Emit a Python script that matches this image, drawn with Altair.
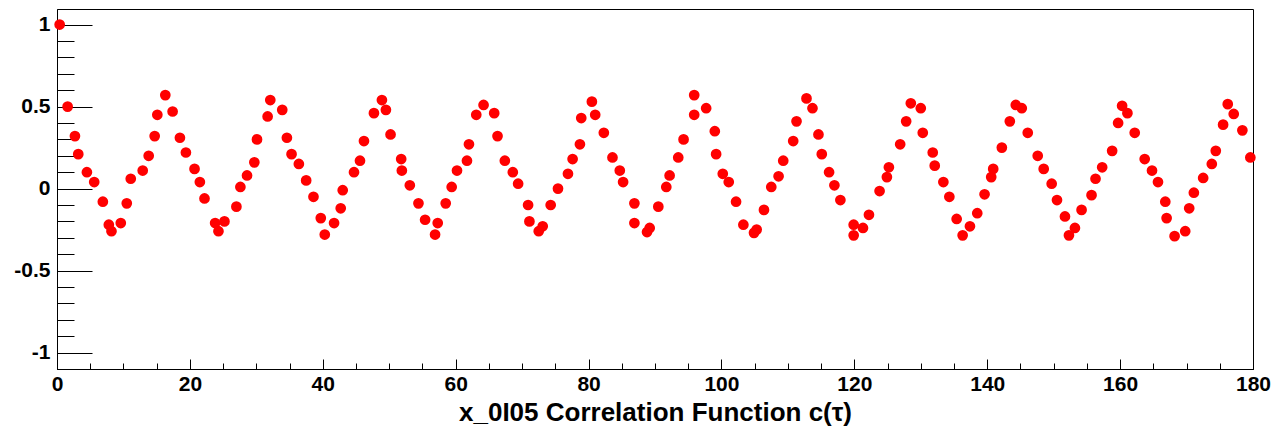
import altair as alt
import pandas as pd

# lag values (tau) and correlation values c(tau)
tau = [0.4, 1.6, 2.7, 3.2, 4.5, 5.6, 6.9, 7.8, 8.2, 9.6,
       10.5, 11.1, 12.9, 13.8, 14.7, 15.1, 16.3, 17.4, 18.5, 19.4,
       20.7, 21.5, 22.2, 23.8, 24.3, 25.2, 27.0, 27.6, 28.6, 29.7,
       30.1, 31.7, 32.1, 33.9, 34.6, 35.3, 36.4, 37.5, 38.6, 39.7,
       40.3, 41.7, 42.7, 43.0, 44.7, 45.6, 46.2, 47.7, 48.9, 49.5,
       50.2, 51.8, 51.9, 53.1, 54.4, 55.4, 56.9, 57.3, 58.5, 59.4,
       60.2, 61.7, 62.0, 63.1, 64.2, 65.8, 66.3, 67.4, 68.6, 69.4,
       70.9, 71.1, 72.5, 73.1, 74.3, 75.4, 76.9, 77.6, 78.7, 78.9,
       80.5, 81.0, 82.3, 83.6, 84.7, 85.2, 86.9, 86.9, 88.8, 89.2,
       90.5, 91.7, 92.2, 93.5, 94.3, 95.9, 95.9, 97.7, 99.0, 99.2,
       100.2, 101.1, 102.2, 103.3, 104.9, 105.3, 106.4, 107.5, 108.6, 109.3,
       110.8, 111.3, 112.8, 113.7, 114.6, 115.1, 116.2, 117.0, 117.9, 119.9,
       119.9, 121.3, 122.2, 123.8, 124.9, 125.2, 126.9, 127.8, 128.5, 130.0,
       130.3, 131.8, 132.1, 133.4, 134.3, 135.4, 136.3, 137.4, 138.5, 139.6,
       140.6, 140.9, 142.2, 143.4, 144.3, 145.2, 146.1, 147.6, 148.5, 149.7,
       150.5, 151.7, 152.3, 153.2, 154.2, 155.7, 156.3, 157.3, 158.8, 159.7,
       160.3, 161.1, 162.2, 163.7, 164.8, 165.7, 166.8, 167.0, 168.2, 169.8,
       170.4, 171.1, 172.5, 173.8, 174.4, 175.5, 176.2, 177.1, 178.4, 179.6]

corr = [1.00, 0.50, 0.32, 0.21, 0.10, 0.04, -0.08, -0.22, -0.26, -0.21,
        -0.09, 0.06, 0.11, 0.20, 0.32, 0.45, 0.57, 0.47, 0.31, 0.22,
        0.12, 0.04, -0.06, -0.21, -0.26, -0.20, -0.11, 0.01, 0.08, 0.16,
        0.30, 0.44, 0.54, 0.48, 0.31, 0.21, 0.15, 0.05, -0.05, -0.18,
        -0.28, -0.21, -0.12, -0.01, 0.10, 0.17, 0.29, 0.46, 0.54, 0.48,
        0.33, 0.18, 0.11, 0.02, -0.09, -0.19, -0.28, -0.21, -0.09, 0.01,
        0.11, 0.17, 0.27, 0.45, 0.51, 0.46, 0.32, 0.17, 0.10, 0.03,
        -0.10, -0.20, -0.26, -0.23, -0.10, 0.00, 0.09, 0.18, 0.27, 0.43,
        0.53, 0.45, 0.34, 0.19, 0.11, 0.04, -0.09, -0.21, -0.265, -0.24,
        -0.11, 0.01, 0.08, 0.19, 0.30, 0.45, 0.57, 0.49, 0.35, 0.21,
        0.09, 0.04, -0.08, -0.22, -0.27, -0.25, -0.13, 0.01, 0.075, 0.17,
        0.29, 0.41, 0.55, 0.49, 0.33, 0.21, 0.10, 0.02, -0.07, -0.22,
        -0.285, -0.24, -0.16, -0.015, 0.07, 0.13, 0.27, 0.41, 0.52, 0.49,
        0.34, 0.22, 0.14, 0.04, -0.05, -0.185, -0.285, -0.23, -0.15, -0.035,
        0.07, 0.12, 0.25, 0.41, 0.51, 0.49, 0.34, 0.20, 0.12, 0.03,
        -0.07, -0.17, -0.285, -0.24, -0.13, -0.04, 0.06, 0.13, 0.23, 0.40,
        0.505, 0.46, 0.34, 0.18, 0.11, 0.04, -0.08, -0.18, -0.29, -0.26,
        -0.12, -0.025, 0.065, 0.15, 0.23, 0.39, 0.515, 0.455, 0.355, 0.19]

x_major = [0, 20, 40, 60, 80, 100, 120, 140, 160, 180]
x_minor = [0, 5, 10, 15, 20, 25, 30, 35, 40, 45, 50, 55, 60, 65, 70, 75, 80, 85, 90,
           95, 100, 105, 110, 115, 120, 125, 130, 135, 140, 145, 150, 155, 160, 165,
           170, 175, 180]
y_major = [-1, -0.5, 0, 0.5, 1]
y_minor = [-1.0, -0.9, -0.8, -0.7, -0.6, -0.5, -0.4, -0.3, -0.2, -0.1, 0.0,
           0.1, 0.2, 0.3, 0.4, 0.5, 0.6, 0.7, 0.8, 0.9, 1.0]

x_title = "x_0I05 Correlation Function c(τ)"

df = pd.DataFrame({"tau": tau, "c": corr})

W, H = 1196, 360
FONT = "Liberation Sans"
xs = alt.Scale(domain=[0, 180], nice=False, zero=False)
ys = alt.Scale(domain=[-1.1, 1.095], nice=False, zero=False)

base = alt.Chart(df)

points = base.mark_circle(size=115, color="#ff0000", opacity=1).encode(
    x=alt.X("tau:Q", scale=xs,
            axis=alt.Axis(orient="bottom", values=x_major, ticks=False, grid=False,
                          domain=True, domainColor="black", domainWidth=1,
                          labelFont=FONT, labelFontSize=21, labelFontWeight="bold",
                          labelColor="black", labelPadding=4, labelFlush=False,
                          title=x_title, titleFont=FONT, titleFontSize=26,
                          titleFontWeight="bold", titleColor="black", titlePadding=5)),
    y=alt.Y("c:Q", scale=ys,
            axis=alt.Axis(orient="left", values=y_major, ticks=False, grid=False,
                          domain=True, domainColor="black", domainWidth=1,
                          format="~g",
                          labelFont=FONT, labelFontSize=21, labelFontWeight="bold",
                          labelColor="black", labelPadding=7, labelFlush=False,
                          labelExpr="replace(datum.label, '\u2212', '-')",
                          title=None)),
)

major = base.mark_circle(opacity=0).encode(
    x=alt.X("tau:Q", scale=xs,
            axis=alt.Axis(orient="top", offset=-H, values=x_major, tickSize=10,
                          tickColor="black", tickWidth=1, labels=False, domain=False,
                          grid=False, title=None)),
    y=alt.Y("c:Q", scale=ys,
            axis=alt.Axis(orient="right", offset=-W, values=y_major, tickSize=35,
                          tickColor="black", tickWidth=1, labels=False, domain=False,
                          grid=False, title=None)),
)

minor = base.mark_circle(opacity=0).encode(
    x=alt.X("tau:Q", scale=xs,
            axis=alt.Axis(orient="top", offset=-H, values=x_minor, tickSize=6,
                          tickColor="black", tickWidth=1, labels=False, domain=False,
                          grid=False, title=None)),
    y=alt.Y("c:Q", scale=ys,
            axis=alt.Axis(orient="right", offset=-W, values=y_minor, tickSize=17,
                          tickColor="black", tickWidth=1, labels=False, domain=False,
                          grid=False, title=None)),
)

chart = (
    alt.layer(points, major, minor)
    .resolve_axis(x="independent", y="independent")
    .properties(width=W, height=H,
                autosize=alt.AutoSizeParams(type="none"),
                padding={"left": 57, "top": 9, "right": 23, "bottom": 62},
                background="white")
    .configure_view(stroke="black", strokeWidth=1)
)

chart.save("out.html", embed_options={"renderer": "svg", "actions": False})
